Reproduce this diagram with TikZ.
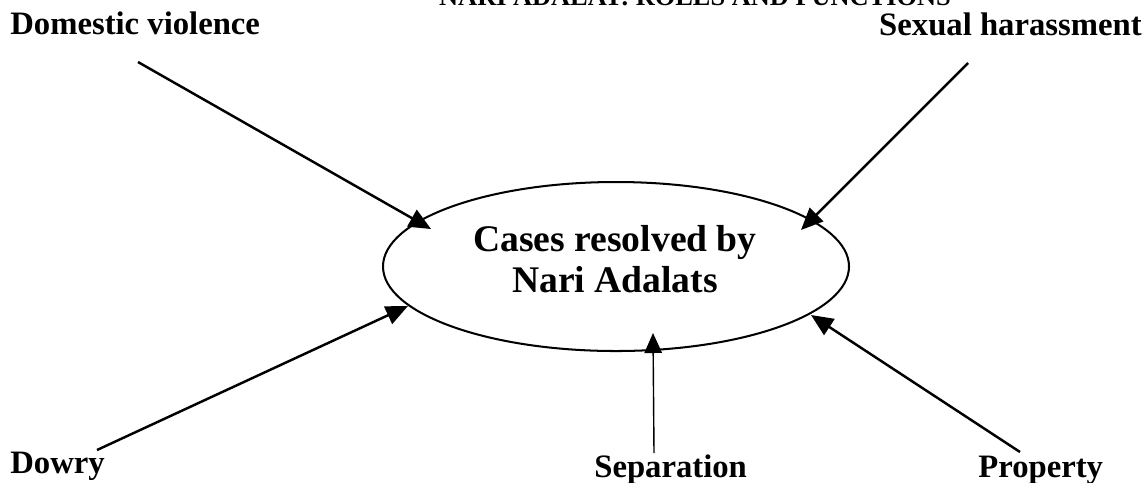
\documentclass[tikz,border=0pt]{standalone}
\usepackage{fontspec}
\setmainfont{Liberation Serif}
\usetikzlibrary{shapes.geometric,arrows.meta}

\begin{document}
\begin{tikzpicture}[x=0.2mm,y=-0.2mm,
  lbl/.style={inner sep=0pt,font=\bfseries\fontsize{18.6pt}{21pt}\selectfont},
  court/.style={draw,line width=1.15pt,shape=ellipse,inner sep=0pt,
    minimum width=93.2mm,minimum height=33.8mm},
  feed/.style={line width=1.4pt,-{Triangle[length=4.4mm,width=3.8mm]}},
  thinfeed/.style={line width=0.8pt,-{Triangle[length=4mm,width=3.5mm]}}
]
\useasboundingbox (0,0) rectangle (1148,482);
\clip (0,0) rectangle (1148,482);

% heading of the page, cut at the top edge
\node[inner sep=0pt,anchor=base,font=\bfseries\fontsize{15pt}{17pt}\selectfont]
  (head) at (695,5) {NARI ADALAT: ROLES AND FUNCTIONS};

% central ellipse and its caption
\node[court] (nari) at (616,266.5) {};
\node[inner sep=0pt,align=center,
  font=\bfseries\fontsize{21.4pt}{23.3pt}\selectfont] (naritext) at (615,259)
  {Cases resolved by\\Nari Adalats};

% case labels
\node[lbl,anchor=base west] (dv)  at (10,34)   {Domestic violence};
\node[lbl,anchor=base east] (sh)  at (1142,35) {Sexual harassment};
\node[lbl,anchor=base west] (dow) at (10,473)  {Dowry};
\node[lbl,anchor=base west] (sep) at (594,477) {Separation};
\node[lbl,anchor=base west] (pro) at (978,477) {Property};

% line ends
\coordinate (dvS)  at (138,62);
\coordinate (dvT)  at (431,229);
\coordinate (shS)  at (968,63);
\coordinate (shT)  at (801,230);
\coordinate (dowS) at (97,450);
\coordinate (dowT) at (408,306);
\coordinate (sepS) at (654,453);
\coordinate (sepT) at (653,333);
\coordinate (proS) at (1020,452);
\coordinate (proT) at (811,315);

\draw[feed] (dvS) -- (dvT);
\draw[feed] (shS) -- (shT);
\draw[feed] (dowS) -- (dowT);
\draw[thinfeed] (sepS) -- (sepT);
\draw[feed] (proS) -- (proT);
\end{tikzpicture}
\end{document}
